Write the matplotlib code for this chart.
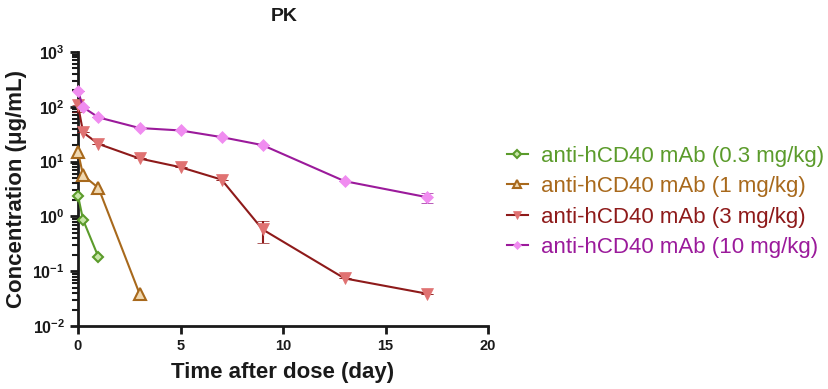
import matplotlib

matplotlib.use("Agg")
import matplotlib.pyplot as plt
from matplotlib.lines import Line2D
from matplotlib.ticker import LogLocator, FixedLocator, NullFormatter

plt.rcParams["font.family"] = ["Liberation Sans", "DejaVu Sans"]

# data
t_03 = [0, 0.25, 1]
c_03 = [2.4, 0.86, 0.18]

t_1 = [0, 0.25, 1, 3]
c_1 = [15, 5.6, 3.3, 0.039]

t_3 = [0, 0.25, 1, 3, 5, 7, 9, 13, 17]
c_3 = [107, 34, 21, 11.4, 7.9, 4.7, 0.58, 0.074, 0.039]
e3_lo = [26, 0, 0, 0, 0, 0, 0.25, 0, 0]
e3_hi = [0, 0, 0, 0, 0, 0, 0.24, 0, 0]

t_10 = [0, 0.25, 1, 3, 5, 7, 9, 13, 17]
c_10 = [194, 98, 64, 41, 37, 28, 20, 4.4, 2.25]
e10_lo = [0, 0, 0, 0, 0, 0, 0, 0, 0.47]
e10_hi = [0, 0, 0, 0, 0, 0, 0, 0, 0.45]

labels = [
    "anti-hCD40 mAb (0.3 mg/kg)",
    "anti-hCD40 mAb (1 mg/kg)",
    "anti-hCD40 mAb (3 mg/kg)",
    "anti-hCD40 mAb (10 mg/kg)",
]

GREEN = "#5b9b2b"
BROWN = "#a8691c"
RED = "#8e1a1a"
PURPLE = "#9b1a9b"
INK = "#1a1a1a"

fig = plt.figure(figsize=(8.29, 3.89), dpi=100)
ax = fig.add_axes([78 / 829, 1 - 326 / 389, 410 / 829, 274 / 389])

styles = [
    dict(color=GREEN, marker="D", ms=5.5, mfc="#c8e6a8", mec=GREEN, mew=1.5),
    dict(color=BROWN, marker="^", ms=8, mfc="#f0d8b0", mec=BROWN, mew=1.5),
    dict(color=RED, marker="v", ms=8, mfc="#e07272", mec="#e07272", mew=0.5),
    dict(color=PURPLE, marker="D", ms=6, mfc="#f08cf0", mec="#f08cf0", mew=0.5),
]

ax.plot(t_03, c_03, lw=1.5, clip_on=False, zorder=4, **styles[0])
ax.plot(t_1, c_1, lw=1.5, clip_on=False, zorder=4, **styles[1])
ax.errorbar(t_3, c_3, yerr=[e3_lo, e3_hi], lw=1.5, capsize=4, elinewidth=1.5,
            capthick=1.5, clip_on=False, zorder=3, **styles[2])
ax.errorbar(t_10, c_10, yerr=[e10_lo, e10_hi], lw=1.5, capsize=4, elinewidth=1.5,
            capthick=1.5, clip_on=False, zorder=3, **styles[3])

ax.set_yscale("log")
ax.set_ylim(1e-2, 1e3)
ax.set_xlim(0, 20)
ax.xaxis.set_major_locator(FixedLocator([0, 5, 10, 15, 20]))
ax.yaxis.set_major_locator(LogLocator(base=10, numticks=10))
ax.yaxis.set_minor_locator(LogLocator(base=10, subs=range(2, 10), numticks=20))
ax.yaxis.set_minor_formatter(NullFormatter())

for side in ("top", "right"):
    ax.spines[side].set_visible(False)
for side in ("left", "bottom"):
    ax.spines[side].set_linewidth(2)
    ax.spines[side].set_color(INK)
ax.tick_params(which="major", direction="out", length=6, width=2, colors=INK)
ax.tick_params(axis="y", which="major", labelsize=11.5)
ax.tick_params(axis="x", which="major", labelsize=10.5)
ax.tick_params(which="minor", direction="out", length=4, width=1.5, colors=INK)
for lab in ax.get_xticklabels() + ax.get_yticklabels():
    lab.set_fontweight("bold")

fig.text(284 / 829, 1 - 16.5 / 389, "PK", fontsize=14, fontweight="bold",
         color=INK, ha="center", va="center")
ax.set_xlabel("Time after dose (day)", fontsize=16, fontweight="bold", color=INK,
              labelpad=6)
ax.set_ylabel("Concentration (μg/mL)", fontsize=16, fontweight="bold", color=INK,
              labelpad=4)

handles = [Line2D([], [], lw=1.5, **{**s, "ms": s["ms"] * 0.75}) for s in styles]
leg = ax.legend(handles, labels, loc="center left", bbox_to_anchor=(1.024, 0.453),
                frameon=False, fontsize=16, handlelength=0.95, handletextpad=0.6,
                labelspacing=0.42, borderaxespad=0)
for text, c in zip(leg.get_texts(), [GREEN, BROWN, RED, PURPLE]):
    text.set_color(c)

fig.savefig("out.png", dpi=100)
